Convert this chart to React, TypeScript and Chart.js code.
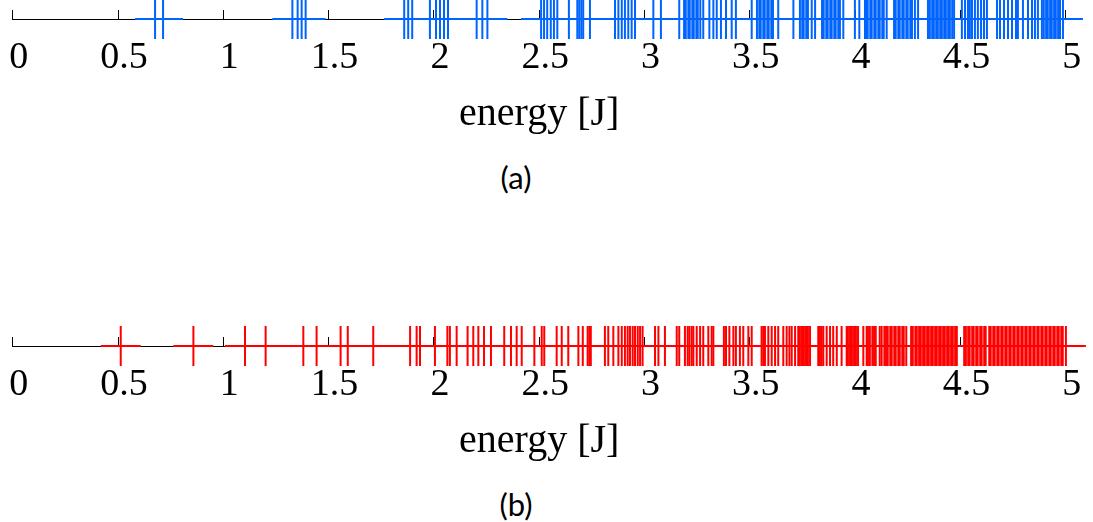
import React, { useEffect, useRef } from 'react';
import { Chart, registerables } from 'chart.js';

Chart.register(...registerables);

const tickValues = [0, 0.5, 1, 1.5, 2, 2.5, 3, 3.5, 4, 4.5, 5];
const axisTitle = 'energy [J]';
const captions = ['(a)', '(b)'];

const blueEnergies = [
  0.676, 0.714,
  1.328, 1.353, 1.372, 1.391,
  1.859, 1.878, 1.897,
  1.981, 2.010, 2.029, 2.048, 2.067,
  2.203, 2.230, 2.254,
  2.509, 2.523, 2.538, 2.555, 2.570, 2.586, 2.641, 2.681, 2.690, 2.700, 2.709, 2.741,
  2.860, 2.876, 2.892, 2.907, 2.923, 2.939, 2.955,
  3.042, 3.078, 3.165, 3.188, 3.196, 3.208, 3.215, 3.227, 3.234, 3.246, 3.253, 3.265, 3.279,
  3.308, 3.327, 3.343, 3.363, 3.387, 3.414, 3.434,
  3.509, 3.534, 3.545, 3.552, 3.564, 3.571, 3.583, 3.590, 3.602, 3.610, 3.635,
  3.707, 3.738, 3.749, 3.756, 3.768, 3.776, 3.794, 3.810,
  3.843, 3.851, 3.863, 3.870, 3.882, 3.889, 3.901, 3.908, 3.920, 3.928, 3.944,
  3.999, 4.020, 4.047, 4.053, 4.060, 4.072, 4.079, 4.091, 4.098, 4.110, 4.117, 4.129, 4.136, 4.150,
  4.185, 4.193, 4.205, 4.212, 4.224, 4.231, 4.243, 4.250, 4.262, 4.270, 4.284, 4.299,
  4.346, 4.355, 4.366, 4.374, 4.385, 4.393, 4.404, 4.412, 4.423, 4.431, 4.442, 4.450, 4.461, 4.470,
  4.507, 4.522, 4.536, 4.545, 4.555, 4.569, 4.583, 4.598, 4.612, 4.626,
  4.674, 4.688, 4.707, 4.726, 4.745, 4.764, 4.773, 4.797, 4.821, 4.840, 4.854, 4.868,
  4.887, 4.896, 4.907, 4.915, 4.926, 4.934, 4.945, 4.953, 4.964, 4.973, 4.987,
];

const redEnergies = [
  0.513, 0.858, 1.103, 1.201, 1.380, 1.443, 1.557, 1.591, 1.712,
  1.887, 1.918, 1.934, 2.005, 2.064, 2.076, 2.108, 2.160, 2.187, 2.211, 2.238, 2.271,
  2.334, 2.366, 2.393, 2.417, 2.477, 2.512, 2.524, 2.583, 2.607, 2.638, 2.686, 2.707,
  2.730, 2.738, 2.745,
  2.812, 2.828, 2.852, 2.876, 2.892, 2.907, 2.920, 2.931, 2.944, 2.955, 2.968, 2.979, 2.991,
  3.050, 3.066, 3.097, 3.153, 3.165, 3.192, 3.205, 3.213, 3.224, 3.232, 3.248, 3.264, 3.279,
  3.303, 3.319, 3.327, 3.377, 3.387, 3.403, 3.422, 3.434, 3.453, 3.469, 3.493, 3.509,
  3.556, 3.564, 3.572, 3.588, 3.604, 3.620, 3.635, 3.659, 3.675, 3.688, 3.699, 3.715,
  3.730, 3.738, 3.748, 3.757, 3.767, 3.776, 3.786, 3.825, 3.833, 3.841, 3.849, 3.865,
  3.881, 3.896, 3.913, 3.936, 3.960, 3.966, 3.976, 3.985, 3.995, 4.004, 4.014, 4.039, 4.055,
  4.061, 4.070, 4.082, 4.090, 4.098, 4.117, 4.126, 4.139, 4.147, 4.155, 4.167, 4.174,
  4.186, 4.193, 4.205, 4.212, 4.224, 4.231, 4.243, 4.266, 4.274, 4.286, 4.293, 4.304,
  4.312, 4.323, 4.331, 4.342, 4.350, 4.361, 4.369, 4.380, 4.388, 4.399, 4.407, 4.418,
  4.426, 4.437, 4.445, 4.456, 4.464, 4.475, 4.483, 4.518, 4.526, 4.537, 4.544, 4.556,
  4.563, 4.575, 4.582, 4.594, 4.601, 4.613, 4.620, 4.637, 4.644, 4.656, 4.663, 4.675,
  4.682, 4.694, 4.701, 4.713, 4.720, 4.732, 4.739, 4.751, 4.758, 4.770, 4.777, 4.789,
  4.796, 4.808, 4.815, 4.827, 4.834, 4.846, 4.853, 4.865, 4.872, 4.884, 4.891, 4.903,
  4.910, 4.922, 4.929, 4.941, 4.948, 4.960, 4.967, 4.979, 4.986, 5.001,
];

const SERIF = "'Liberation Serif', 'DejaVu Serif', serif";
const CANVAS_W = 1093;
const HEADROOM = 12;
const AREA_H = 9;
const AXIS_H = 115;
const CANVAS_H = HEADROOM + AREA_H + AXIS_H;

type PanelProps = { energies: number[]; color: string; caption: string; axisY: number };

function Panel({ energies, color, caption, axisY }: PanelProps) {
  const ref = useRef<HTMLCanvasElement>(null);
  useEffect(() => {
    if (!ref.current) return;
    const chart = new Chart(ref.current, {
      type: 'scatter',
      data: {
        datasets: [
          {
            data: energies.map((e) => ({ x: e, y: 0 })),
            pointStyle: 'cross',
            pointRadius: 20,
            pointHoverRadius: 20,
            borderColor: color,
            backgroundColor: color,
            borderWidth: 2,
            showLine: false,
            clip: false,
          } as any,
        ],
      },
      options: {
        animation: false,
        responsive: false,
        events: [],
        layout: { autoPadding: false, padding: { top: HEADROOM, left: 12.7, right: 27.3, bottom: 0 } },
        plugins: { legend: { display: false }, tooltip: { enabled: false }, title: { display: false } },
        scales: {
          x: {
            type: 'linear',
            min: 0,
            max: 5,
            afterBuildTicks: (s: any) => {
              s.ticks = tickValues.map((value) => ({ value }));
            },
            afterFit: (s: any) => {
              s.height = AXIS_H;
              s.paddingLeft = 0;
              s.paddingRight = 0;
            },
            ticks: {
              autoSkip: false,
              maxRotation: 0,
              color: '#000',
              padding: 20,
              labelOffset: 6,
              font: { family: SERIF, size: 38, lineHeight: 1 },
              callback: (v: any) => String(v),
            },
            grid: { display: true, drawOnChartArea: true, drawTicks: false, color: '#000', lineWidth: 1 },
            border: { display: true, color: '#000', width: 1 },
            title: {
              display: true,
              text: axisTitle,
              color: '#000',
              padding: { top: 0, bottom: 0 },
              font: { family: SERIF, size: 40, lineHeight: 1 },
            },
          },
          y: { display: false, min: 0, max: 1 },
        },
      } as any,
    });
    return () => chart.destroy();
  }, [energies, color]);
  return (
    <>
      <canvas
        ref={ref}
        width={CANVAS_W}
        height={CANVAS_H}
        style={{ position: 'absolute', left: 0, top: axisY - HEADROOM - AREA_H, width: CANVAS_W, height: CANVAS_H }}
      />
      <div
        style={{
          position: 'absolute',
          left: 0,
          width: 1032,
          top: axisY + 158 - 20,
          height: 40,
          lineHeight: '40px',
          textAlign: 'center',
          fontFamily: 'Lato, "Open Sans", sans-serif',
          fontSize: 31,
          color: '#000',
        }}
      >
        {caption}
      </div>
    </>
  );
}

export default function App() {
  return (
    <div
      style={{
        position: 'absolute',
        left: 0,
        top: 0,
        width: 1093,
        height: 522,
        overflow: 'hidden',
        background: '#fff',
      }}
    >
      <Panel energies={blueEnergies} color="#0064ff" caption={captions[0]} axisY={19} />
      <Panel energies={redEnergies} color="#ff0000" caption={captions[1]} axisY={346} />
    </div>
  );
}
